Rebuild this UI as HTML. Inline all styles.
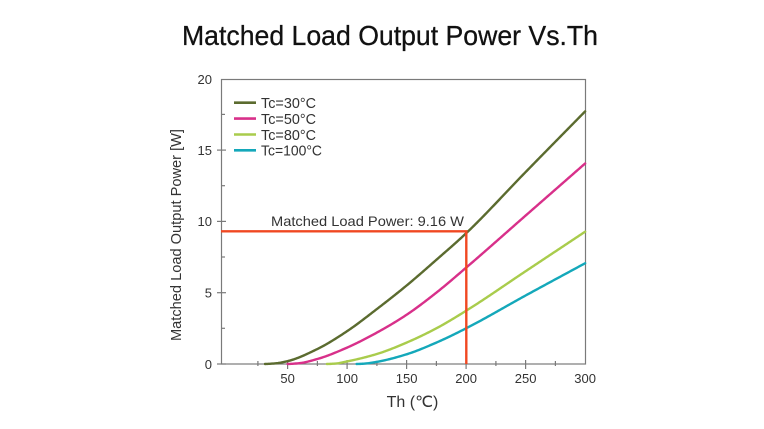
<!DOCTYPE html>
<html><head><meta charset="utf-8"><style>
html,body{margin:0;padding:0;background:#fff;}
svg{display:block;}
text{font-family:"Liberation Sans",sans-serif;}
</style></head><body>
<svg id="s" width="764" height="429" viewBox="0 0 764 429" xmlns="http://www.w3.org/2000/svg">
<rect width="764" height="429" fill="#fff"/>
<text x="390" y="45" text-anchor="middle" font-size="28" fill="#111" stroke="#111" stroke-width="0.3" textLength="416" lengthAdjust="spacingAndGlyphs">Matched Load Output Power Vs.Th</text>
<!-- plot box -->
<rect x="221.5" y="79.5" width="364" height="284.5" fill="none" stroke="#7a7a7a" stroke-width="1.2"/>
<g stroke="#7a7a7a" stroke-width="1.2">
<line x1="217" y1="364" x2="226" y2="364"/>
<line x1="217" y1="292.7" x2="226" y2="292.7"/>
<line x1="217" y1="221.4" x2="226" y2="221.4"/>
<line x1="217" y1="150.1" x2="226" y2="150.1"/>
<line x1="221" y1="328.3" x2="225" y2="328.3"/>
<line x1="221" y1="257" x2="225" y2="257"/>
<line x1="221" y1="185.7" x2="225" y2="185.7"/>
<line x1="221" y1="114.4" x2="225" y2="114.4"/>
<line x1="287.6" y1="360" x2="287.6" y2="369"/>
<line x1="347.1" y1="360" x2="347.1" y2="369"/>
<line x1="406.6" y1="360" x2="406.6" y2="369"/>
<line x1="466.1" y1="360" x2="466.1" y2="369"/>
<line x1="525.6" y1="360" x2="525.6" y2="369"/>
<line x1="257.9" y1="361" x2="257.9" y2="366"/>
<line x1="317.4" y1="361" x2="317.4" y2="366"/>
<line x1="376.9" y1="361" x2="376.9" y2="366"/>
<line x1="436.4" y1="361" x2="436.4" y2="366"/>
<line x1="495.9" y1="361" x2="495.9" y2="366"/>
<line x1="555.4" y1="361" x2="555.4" y2="366"/>
</g>
<g font-size="13" fill="#333" text-anchor="end">
<text x="212" y="369">0</text>
<text x="212" y="297.5">5</text>
<text x="212" y="226">10</text>
<text x="212" y="155">15</text>
<text x="212" y="84">20</text>
</g>
<g font-size="13" fill="#333" text-anchor="middle">
<text x="287.6" y="383">50</text>
<text x="347.1" y="383">100</text>
<text x="406.6" y="383">150</text>
<text x="466.1" y="383">200</text>
<text x="525.6" y="383">250</text>
<text x="585.1" y="383">300</text>
</g>
<text x="412.5" y="407" font-size="16" fill="#333" text-anchor="middle">Th (℃)</text>
<text transform="translate(181,235) rotate(-90)" font-size="15" fill="#333" text-anchor="middle" textLength="212" lengthAdjust="spacingAndGlyphs">Matched Load Output Power [W]</text>
<g id="curves" fill="none" stroke-width="2.4" stroke-linecap="round" stroke-linejoin="round"></g>
<!-- matched load lines -->
<polyline points="221,231.3 466.3,231.3 466.3,364" fill="none" stroke="#f04822" stroke-width="2.4"/>
<text x="271" y="226" font-size="14" fill="#333" textLength="193" lengthAdjust="spacingAndGlyphs">Matched Load Power: 9.16 W</text>
<!-- legend -->
<g stroke-width="2.6">
<line x1="234" y1="102.7" x2="256" y2="102.7" stroke="#5b6b2f"/>
<line x1="234" y1="118.6" x2="256" y2="118.6" stroke="#d8308a"/>
<line x1="234" y1="134.5" x2="256" y2="134.5" stroke="#a9cc4c"/>
<line x1="234" y1="150.3" x2="256" y2="150.3" stroke="#14a8ba"/>
</g>
<g font-size="15" fill="#333">
<text x="261" y="108" textLength="55" lengthAdjust="spacingAndGlyphs">Tc=30°C</text>
<text x="261" y="124" textLength="55" lengthAdjust="spacingAndGlyphs">Tc=50°C</text>
<text x="261" y="140" textLength="55" lengthAdjust="spacingAndGlyphs">Tc=80°C</text>
<text x="261" y="155.5" textLength="61" lengthAdjust="spacingAndGlyphs">Tc=100°C</text>
</g>
</svg>
<script>
(function(){
var X=function(t){return 228.1+1.19*t;}, Y=function(p){return 364-14.27*p;};
var series=[
 ["#5b6b2f",[[31,0],[40,0.05],[50,0.2],[75,1.05],[100,2.3],[125,3.85],[150,5.5],[175,7.3],[200,9.16],[250,13.45],[300,17.7]]],
 ["#d8308a",[[50,0],[60,0.06],[75,0.35],[100,1.15],[125,2.2],[150,3.45],[175,5.0],[200,6.75],[250,10.4],[300,14.05]]],
 ["#a9cc4c",[[83,0],[90,0.03],[100,0.18],[125,0.7],[150,1.5],[175,2.5],[200,3.73],[250,6.5],[300,9.27]]],
 ["#14a8ba",[[108,0],[115,0.03],[125,0.15],[150,0.68],[175,1.5],[200,2.5],[250,4.8],[300,7.06]]]
];
function mono(pts){
 var n=pts.length,xs=pts.map(function(a){return a[0];}),ys=pts.map(function(a){return a[1];});
 var d=[],m=[];
 for(var i=0;i<n-1;i++){d.push((ys[i+1]-ys[i])/(xs[i+1]-xs[i]));}
 m[0]=d[0];m[n-1]=d[n-2];
 for(i=1;i<n-1;i++){
  if(d[i-1]*d[i]<=0){m[i]=0;}else{
   var h0=xs[i]-xs[i-1],h1=xs[i+1]-xs[i];
   var w1=2*h1+h0,w2=h1+2*h0;
   m[i]=(w1+w2)/(w1/d[i-1]+w2/d[i]);
  }
 }
 m[0]=Math.max(0,d[0]*0.3);
 return function(x){
  var k=0;while(k<n-2&&x>xs[k+1])k++;
  var h=xs[k+1]-xs[k],t=(x-xs[k])/h,t2=t*t,t3=t2*t;
  return (2*t3-3*t2+1)*ys[k]+(t3-2*t2+t)*h*m[k]+(-2*t3+3*t2)*ys[k+1]+(t3-t2)*h*m[k+1];
 };
}
var g=document.getElementById('curves');
series.forEach(function(s){
 var f=mono(s[1]),x0=s[1][0][0],d="";
 for(var t=x0;t<=300.001;t+=1){
  d+=(d?" L":"M")+X(t).toFixed(2)+","+Y(f(t)).toFixed(2);
 }
 var e=document.createElementNS("http://www.w3.org/2000/svg","path");
 e.setAttribute("d",d);e.setAttribute("stroke",s[0]);
 g.appendChild(e);
});
})();
</script>
</body></html>
